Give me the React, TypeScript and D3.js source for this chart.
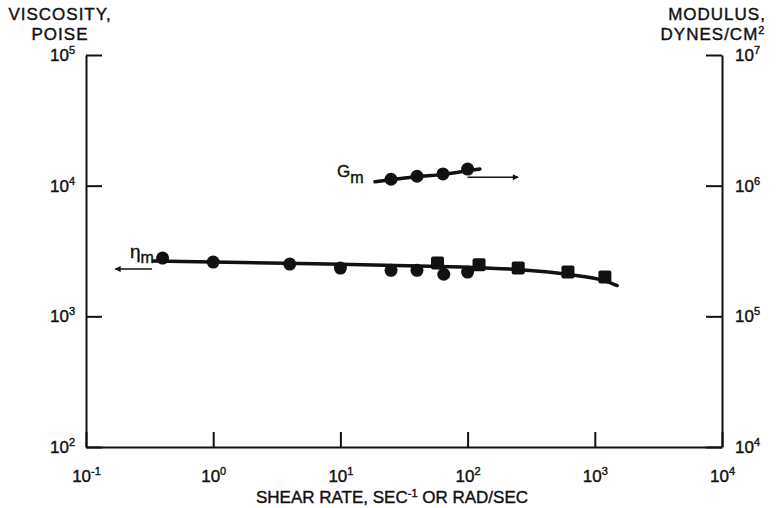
import React, { useRef, useEffect } from 'react';
import * as d3 from 'd3';

// shear rate (1/s) and viscosity (poise), steady shear - circles
const etaCircleX = [0.4, 1, 4, 10, 25, 40, 65, 100];
const etaCircleY = [2790, 2600, 2510, 2340, 2250, 2250, 2100, 2180];
// dynamic viscosity - squares
const etaSquareX = [58, 123, 250, 615, 1200];
const etaSquareY = [2560, 2480, 2340, 2180, 2000];
// smooth line through viscosity data
const etaFitX = [0.34, 1, 10, 50, 100, 250, 600, 1200, 1500];
const etaFitY = [2650, 2610, 2500, 2420, 2380, 2280, 2100, 1870, 1720];
// modulus (dynes/cm2)
const gCircleX = [25, 40, 64, 100];
const gCircleY = [1.12e6, 1.18e6, 1.23e6, 1.34e6];
const gFitX = [18.7, 25, 40, 64, 100, 125];
const gFitY = [1.07e6, 1.11e6, 1.17e6, 1.22e6, 1.3e6, 1.34e6];

const xTicks = [0.1, 1, 10, 100, 1000, 10000];
const xTickExp = ['-1', '0', '1', '2', '3', '4'];
const leftTicks = [100, 1000, 10000, 100000];
const leftTickExp = ['2', '3', '4', '5'];
const rightTicks = [1e4, 1e5, 1e6, 1e7];
const rightTickExp = ['4', '5', '6', '7'];

const FONT = 'Liberation Sans, Arial, sans-serif';
const INK = '#111';

const App = () => {
  const svgRef = useRef<SVGSVGElement>(null);

  useEffect(() => {
    const w = 776;
    const h = 508;
    const svg = d3.select(svgRef.current).attr('width', w).attr('height', h);
    svg.selectAll('*').remove();

    const left = 86, right = 722, top = 55, bottom = 447;
    const x = d3.scaleLog().domain([0.1, 1e4]).range([left, right]);
    const yL = d3.scaleLog().domain([100, 1e5]).range([bottom, top]);
    const yR = d3.scaleLog().domain([1e4, 1e7]).range([bottom, top]);

    svg.append('rect').attr('width', w).attr('height', h).attr('fill', '#fff');

    const defs = svg.append('defs');
    defs.append('marker')
      .attr('id', 'arr')
      .attr('viewBox', '0 0 10 10')
      .attr('refX', 9).attr('refY', 5)
      .attr('markerWidth', 9).attr('markerHeight', 6)
      .attr('markerUnits', 'userSpaceOnUse')
      .attr('orient', 'auto')
      .append('path').attr('d', 'M0,0 L10,5 L0,10 Z').attr('fill', INK);

    const styleAxis = (g) => {
      g.select('.domain').attr('stroke', INK).attr('stroke-width', 2);
      g.selectAll('.tick line').attr('stroke', INK).attr('stroke-width', 2);
    };

    // power-of-ten labels with superscript
    const powerLabel = (sel, exps) => {
      sel.selectAll('.tick text').each(function (d, i) {
        const t = d3.select(this);
        t.text(null).attr('font-family', FONT).attr('font-size', 17).attr('fill', INK)
          .attr('stroke', INK).attr('stroke-width', 0.4);
        t.append('tspan').text('10');
        t.append('tspan').attr('dy', -7).attr('font-size', 11).text(exps[i]);
      });
    };

    // left axis
    const gl = svg.append('g').attr('transform', `translate(${left},0)`)
      .call(d3.axisLeft(yL).tickValues(leftTicks).tickSizeInner(-16).tickSizeOuter(0).tickPadding(11));
    styleAxis(gl);
    powerLabel(gl, leftTickExp);

    // right axis
    const gr = svg.append('g').attr('transform', `translate(${right},0)`)
      .call(d3.axisRight(yR).tickValues(rightTicks).tickSizeInner(-16).tickSizeOuter(0).tickPadding(13));
    styleAxis(gr);
    powerLabel(gr, rightTickExp);

    // bottom axis
    const gb = svg.append('g').attr('transform', `translate(0,${bottom})`)
      .call(d3.axisBottom(x).tickValues(xTicks).tickSizeInner(-15).tickSizeOuter(0).tickPadding(23));
    styleAxis(gb);
    powerLabel(gb, xTickExp);

    // axis titles
    const title = (tx, ty, txt, anchor = 'middle') =>
      svg.append('text').attr('x', tx).attr('y', ty).attr('text-anchor', anchor)
        .attr('font-family', FONT).attr('font-size', 17).attr('letter-spacing', 1)
        .attr('fill', INK).attr('stroke', INK).attr('stroke-width', 0.4).text(txt);
    title(60, 20, 'VISCOSITY,');
    title(60, 40, 'POISE');
    title(717, 20, 'MODULUS,');
    const mod = title(713, 40, 'DYNES/CM');
    mod.append('tspan').attr('dy', -6).attr('font-size', 11).text('2');

    const xt = svg.append('text').attr('x', 392).attr('y', 503).attr('text-anchor', 'middle')
      .attr('font-family', FONT).attr('font-size', 17).attr('fill', INK)
      .attr('stroke', INK).attr('stroke-width', 0.4);
    xt.append('tspan').text('SHEAR RATE, SEC');
    xt.append('tspan').attr('dy', -6).attr('font-size', 11).text('-1');
    xt.append('tspan').attr('dy', 6).text(' OR RAD/SEC');

    // fit lines
    const line = (ys) => d3.line<number>()
      .x((d) => x(d))
      .y((d, i) => ys(i))
      .curve(d3.curveMonotoneX);

    svg.append('path')
      .datum(etaFitX)
      .attr('d', line((i) => yL(etaFitY[i])))
      .attr('fill', 'none').attr('stroke', INK).attr('stroke-width', 3.5).attr('stroke-linecap', 'round');

    svg.append('path')
      .datum(gFitX)
      .attr('d', line((i) => yR(gFitY[i])))
      .attr('fill', 'none').attr('stroke', INK).attr('stroke-width', 3.5).attr('stroke-linecap', 'round');

    // points
    svg.selectAll('.eta-c')
      .data(etaCircleX)
      .join('circle')
      .attr('cx', (d) => x(d))
      .attr('cy', (d, i) => yL(etaCircleY[i]))
      .attr('r', 6.5)
      .attr('fill', INK);

    const sq = 13;
    svg.selectAll('.eta-s')
      .data(etaSquareX)
      .join('rect')
      .attr('x', (d) => x(d) - sq / 2)
      .attr('y', (d, i) => yL(etaSquareY[i]) - sq / 2)
      .attr('width', sq).attr('height', sq).attr('rx', 2)
      .attr('fill', INK);

    svg.selectAll('.g-c')
      .data(gCircleX)
      .join('circle')
      .attr('cx', (d) => x(d))
      .attr('cy', (d, i) => yR(gCircleY[i]))
      .attr('r', 6.5)
      .attr('fill', INK);

    // arrows pointing to the axis each curve belongs to
    svg.append('line')
      .attr('x1', x(100)).attr('x2', x(250))
      .attr('y1', yR(1.16e6)).attr('y2', yR(1.16e6))
      .attr('stroke', INK).attr('stroke-width', 1.5).attr('marker-end', 'url(#arr)');
    svg.append('line')
      .attr('x1', x(0.33)).attr('x2', x(0.17))
      .attr('y1', yL(2300)).attr('y2', yL(2300))
      .attr('stroke', INK).attr('stroke-width', 1.5).attr('marker-end', 'url(#arr)');

    // series labels
    const gLab = svg.append('text').attr('x', 337).attr('y', 177)
      .attr('font-family', FONT).attr('font-size', 17).attr('fill', INK)
      .attr('stroke', INK).attr('stroke-width', 0.4);
    gLab.append('tspan').text('G');
    gLab.append('tspan').attr('dy', 6).attr('font-size', 16).text('m');

    const eLab = svg.append('text').attr('x', 130).attr('y', 258)
      .attr('font-family', FONT).attr('font-size', 19).attr('fill', INK)
      .attr('stroke', INK).attr('stroke-width', 0.4);
    eLab.append('tspan').text('η');
    eLab.append('tspan').attr('dy', 5).attr('font-size', 16).text('m');
  }, []);

  return (
    <div>
      <svg ref={svgRef} style={{ position: 'absolute', left: 0, top: 0, display: 'block' }}></svg>
    </div>
  );
};

export default App;
